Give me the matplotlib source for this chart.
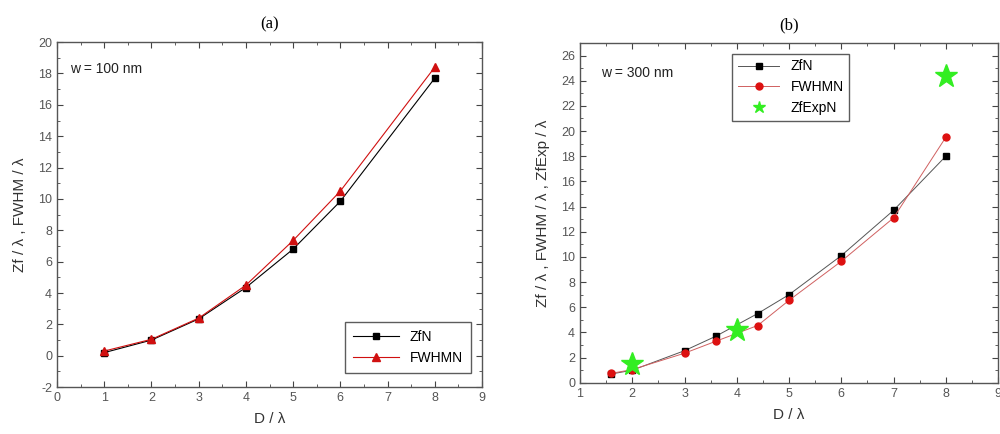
import matplotlib
matplotlib.use("Agg")
import matplotlib.pyplot as plt
from matplotlib.ticker import MultipleLocator

plt.rcParams['font.family'] = ['Liberation Sans', 'DejaVu Sans']
plt.rcParams['axes.unicode_minus'] = False

# Panel (a) data, w = 100 nm
a_x = [1, 2, 3, 4, 5, 6, 8]
a_zfn = [0.2, 1.0, 2.35, 4.35, 6.8, 9.85, 17.7]
a_fwhmn = [0.3, 1.05, 2.4, 4.5, 7.35, 10.5, 18.4]

# Panel (b) data, w = 300 nm
b_x = [1.6, 2, 3, 3.6, 4.4, 5, 6, 7, 8]
b_zfn = [0.7, 1.0, 2.55, 3.7, 5.5, 7.0, 10.1, 13.7, 18.0]
b_fwhmn = [0.75, 1.05, 2.35, 3.3, 4.55, 6.55, 9.65, 13.1, 19.5]
b_exp_x = [2, 4, 8]
b_zfexpn = [1.5, 4.2, 24.4]

fig = plt.figure(figsize=(10, 4.34), dpi=100)
axa = fig.add_axes([0.057, 0.108, 0.425, 0.795])
axb = fig.add_axes([0.580, 0.118, 0.418, 0.783])

tc = '#444444'
for ax in (axa, axb):
    ax.tick_params(which='both', direction='in', top=True, right=True,
                   labelsize=9, colors=tc, labelcolor='#555555')
    ax.tick_params(which='major', length=4)
    ax.tick_params(which='minor', length=2)
    for s in ax.spines.values():
        s.set_color('#555555')
        s.set_linewidth(1.0)

# Panel (a)
axa.plot(a_x, a_zfn, color='black', lw=0.8, marker='s', ms=5, label='ZfN')
axa.plot(a_x, a_fwhmn, color='#d01010', lw=0.8, marker='^', ms=6, label='FWHMN')
axa.set_xlim(0, 9)
axa.set_ylim(-2, 20)
axa.xaxis.set_major_locator(MultipleLocator(1))
axa.xaxis.set_minor_locator(MultipleLocator(0.5))
axa.yaxis.set_major_locator(MultipleLocator(2))
axa.yaxis.set_minor_locator(MultipleLocator(1))
axa.set_xlabel('D / λ', fontsize=11, color='#333333', labelpad=6)
axa.set_ylabel('Zf / λ , FWHM / λ', fontsize=11, color='#333333', labelpad=8)
axa.set_title('(a)', fontsize=12, family='Liberation Serif', pad=10)
axa.text(0.03, 0.91, 'w = 100 nm', transform=axa.transAxes, fontsize=10, color='#222222')
lg = axa.legend(loc='lower right', bbox_to_anchor=(0.975, 0.04), fontsize=10,
                frameon=True, fancybox=False, borderaxespad=0,
                edgecolor='#333333', handlelength=3.3, borderpad=0.6)
lg.get_frame().set_linewidth(1.0)

# Panel (b)
axb.plot(b_x, b_zfn, color='#555555', lw=0.7, marker='s', ms=5,
         mfc='black', mec='black', label='ZfN')
axb.plot(b_x, b_fwhmn, color='#d06060', lw=0.7, marker='o', ms=5,
         mfc='#dd1111', mec='#dd1111', label='FWHMN')
axb.plot(b_exp_x, b_zfexpn, ls='none', marker='*', ms=17,
         color='#33ee22', label='ZfExpN')
axb.set_xlim(1, 9)
axb.set_ylim(0, 27)
axb.xaxis.set_major_locator(MultipleLocator(1))
axb.xaxis.set_minor_locator(MultipleLocator(0.5))
axb.yaxis.set_major_locator(MultipleLocator(2))
axb.yaxis.set_minor_locator(MultipleLocator(1))
axb.set_xlabel('D / λ', fontsize=11, color='#333333', labelpad=6)
axb.set_ylabel('Zf / λ , FWHM / λ , ZfExp / λ', fontsize=11, color='#333333', labelpad=8)
axb.set_title('(b)', fontsize=12, family='Liberation Serif', pad=10)
axb.text(0.05, 0.90, 'w = 300 nm', transform=axb.transAxes, fontsize=10, color='#222222')
lg2 = axb.legend(loc='upper left', bbox_to_anchor=(0.364, 0.968), fontsize=10,
                 frameon=True, fancybox=False, edgecolor='#333333',
                 borderaxespad=0, handlelength=3.0)
lg2.get_frame().set_linewidth(1.0)
lg2.legend_handles[2].set_markersize(9)

fig.savefig('out.png', dpi=100)
